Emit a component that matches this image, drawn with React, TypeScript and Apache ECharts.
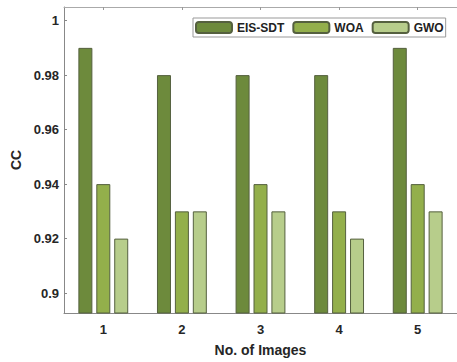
import React, { useEffect, useRef } from "react";
import * as echarts from "echarts";

const categories = ["1", "2", "3", "4", "5"];
const seriesNames = ["EIS-SDT", "WOA", "GWO"];
const eisSdt = [0.99, 0.98, 0.98, 0.98, 0.99];
const woa = [0.94, 0.93, 0.94, 0.93, 0.94];
const gwo = [0.92, 0.93, 0.93, 0.92, 0.93];
const colors = ["#6d8a3c", "#93af4b", "#b7cd8b"];

const font = "'Liberation Sans', Arial, Helvetica, sans-serif";

export default function App() {
  const ref = useRef<HTMLDivElement>(null);
  useEffect(() => {
    if (!ref.current) return;
    const chart = echarts.init(ref.current, undefined, { renderer: "svg" });
    const values = [eisSdt, woa, gwo];
    chart.setOption({
      animation: false,
      backgroundColor: "#ffffff",
      grid: { left: 64, top: 7, width: 398, bottom: 46, containLabel: false },
      legend: {
        data: seriesNames,
        left: 193,
        top: 18,
        itemWidth: 36,
        itemHeight: 11,
        itemGap: 8,
        padding: [3, 2],
        borderColor: "#999999",
        borderWidth: 1,
        backgroundColor: "#ffffff",
        textStyle: { fontFamily: font, fontWeight: "bold", fontSize: 12, color: "#222", padding: [0, 0, 0, 0] },
      },
      xAxis: [
        {
          type: "category",
          data: categories,
          position: "bottom",
          name: "No. of Images",
          nameLocation: "middle",
          nameGap: 30,
          nameTextStyle: { fontFamily: font, fontWeight: "bold", fontSize: 14, color: "#262626" },
          axisLine: { lineStyle: { color: "#888888" } },
          axisTick: { show: false },
          axisLabel: { fontFamily: font, fontWeight: "bold", fontSize: 13, color: "#262626", margin: 10 },
        },
        {
          type: "category",
          data: categories,
          position: "top",
          axisLine: { lineStyle: { color: "#aaaaaa" } },
          axisTick: { show: true, inside: true, alignWithLabel: true, length: 3, lineStyle: { color: "#999999" } },
          axisLabel: { show: false },
        },
      ],
      yAxis: {
        type: "value",
        min: 0.8927,
        max: 1.005,
        name: "CC",
        nameLocation: "middle",
        nameGap: 40,
        nameTextStyle: { fontFamily: font, fontWeight: "bold", fontSize: 14, color: "#262626" },
        splitLine: { show: false },
        axisLine: { show: true, lineStyle: { color: "#888888" } },
        axisTick: { show: true, inside: true, length: 3, lineStyle: { color: "#888888" } },
        axisLabel: {
          showMinLabel: false,
          showMaxLabel: false,
          margin: 5,
          fontFamily: font,
          fontWeight: "bold",
          fontSize: 13,
          color: "#262626",
          formatter: (v: number) => String(Math.round(v * 100) / 100),
        },
      },
      series: seriesNames.map((name, i) => ({
        name,
        type: "bar",
        xAxisIndex: 0,
        data: values[i],
        barWidth: 14,
        barGap: "28%",
        itemStyle: { color: colors[i], borderColor: "#55603f", borderWidth: 1 },
      })),
    });
    return () => chart.dispose();
  }, []);
  return <div ref={ref} style={{ width: 457, height: 362, position: "absolute", left: 0, top: 0 }} />;
}
